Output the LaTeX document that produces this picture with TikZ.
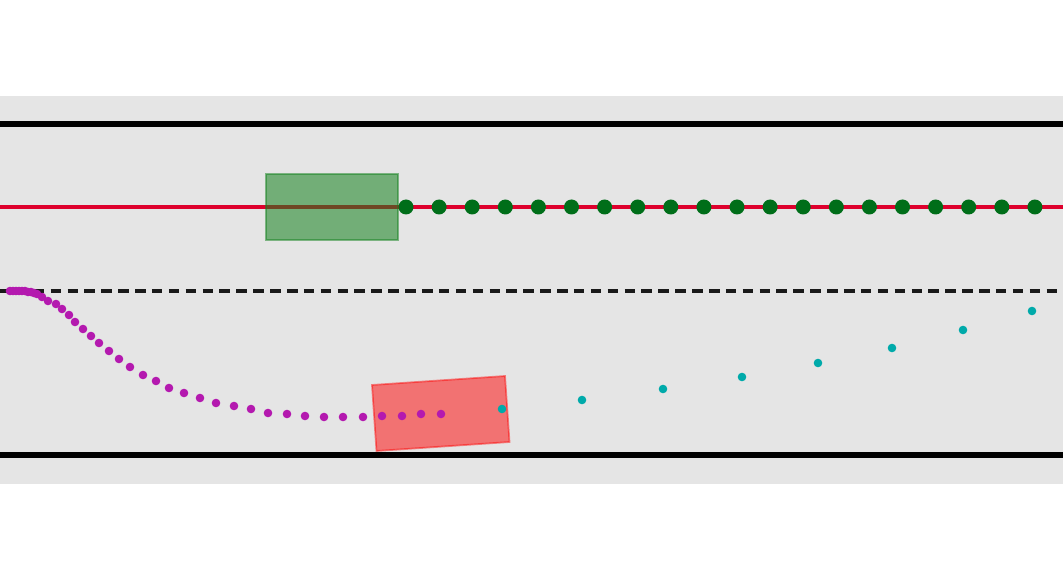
\documentclass[tikz,border=0pt]{standalone}
\usetikzlibrary{calc}
\definecolor{roadgray}{RGB}{229,229,229}
\definecolor{refline}{RGB}{222,0,45}
\definecolor{dotgreen}{RGB}{0,110,25}
\definecolor{egogreen}{RGB}{20,130,30}
\definecolor{trajpurple}{RGB}{180,25,175}
\definecolor{predcyan}{RGB}{0,170,170}
\begin{document}
\begin{tikzpicture}[x=0.01cm, y=-0.01cm,
    border/.style={line width=1.5pt, black},
    lane/.style={line width=1.1pt, black!90, dash pattern=on 3pt off 1.8pt}]
    \useasboundingbox (0,0) rectangle (1063,585);

    % Road
    \fill[roadgray] (0,96) rectangle (1063,484);
    \draw[border] (0,124) -- (1063,124);
    \draw[border] (0,455) -- (1063,455);
    \draw[lane] (0,291) -- (1063,291);

    % Reference path and ego vehicle
    \draw[refline, line width=0.9pt] (0,207) -- (1063,207);
    \filldraw[fill=egogreen, draw=egogreen, fill opacity=0.55, draw opacity=0.5, line width=0.4pt]
        (266,174) rectangle (398,240);
    \foreach \i in {0,...,19}
        \fill[dotgreen] (406+33.1*\i,207) circle (7.5);

    % Other vehicle
    \filldraw[fill=red, draw=red, fill opacity=0.5, draw opacity=0.45, line width=0.5pt]
        (372,385) -- (505,376) -- (509.5,442) -- (376.5,451) -- cycle;

    % Past trajectory
    \foreach \x/\y in {10/291,13/291,16/291,19/291,22/291,25/291,28/292,31/292,34/293,37/294,
        42/297,48/301,56/304,62/309,69/315,75/322,83/329,91/336,99/343,109/351,119/359,
        130/367,143/375,156/381,169/388,184/393,200/398,216/403,234/406,251/409,268/413,
        287/414,305/416,324/417,343/417,363/417,382/416,402/416,421/414,441/414}
        \fill[trajpurple] (\x,\y) circle (4.3);

    % Predicted trajectory
    \foreach \x/\y in {502/409,582/400,663/389,742/377,818/363,892/348,963/330,1032/311}
        \fill[predcyan] (\x,\y) circle (4.3);
\end{tikzpicture}
\end{document}
